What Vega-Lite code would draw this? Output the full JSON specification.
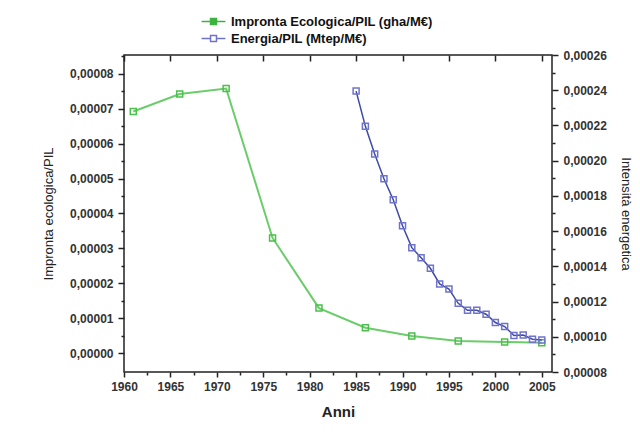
{
  "$schema": "https://vega.github.io/schema/vega-lite/v6.json",
  "width": 428,
  "height": 317,
  "autosize": {"type": "none"},
  "padding": {"left": 124, "top": 55, "right": 88, "bottom": 71},
  "background": "white",
  "config": {
    "view": {"stroke": "#222", "strokeWidth": 1.5},
    "font": "Liberation Sans",
    "axis": {"domain": false, "grid": false, "labelFlush": false, "tickColor": "#222", "tickWidth": 1.5, "labelColor": "#333", "labelFont": "Liberation Sans", "labelFontWeight": "bold", "labelFontSize": 12, "titleFont": "Liberation Sans", "titleColor": "#222"}
  },
  "datasets": {
    "eco": [
      {"anno": 1961, "valore": 0.0000692},
      {"anno": 1966, "valore": 0.0000742},
      {"anno": 1971, "valore": 0.0000758},
      {"anno": 1976, "valore": 0.0000330},
      {"anno": 1981, "valore": 0.0000129},
      {"anno": 1986, "valore": 0.0000073},
      {"anno": 1991, "valore": 0.0000049},
      {"anno": 1996, "valore": 0.0000035},
      {"anno": 2001, "valore": 0.0000032},
      {"anno": 2005, "valore": 0.0000030}
    ],
    "energia": [
      {"anno": 1985, "valore": 0.0002395},
      {"anno": 1986, "valore": 0.0002195},
      {"anno": 1987, "valore": 0.0002038},
      {"anno": 1988, "valore": 0.0001897},
      {"anno": 1989, "valore": 0.0001778},
      {"anno": 1990, "valore": 0.0001630},
      {"anno": 1991, "valore": 0.0001506},
      {"anno": 1992, "valore": 0.0001449},
      {"anno": 1993, "valore": 0.0001389},
      {"anno": 1994, "valore": 0.0001300},
      {"anno": 1995, "valore": 0.0001271},
      {"anno": 1996, "valore": 0.0001190},
      {"anno": 1997, "valore": 0.0001150},
      {"anno": 1998, "valore": 0.0001150},
      {"anno": 1999, "valore": 0.0001128},
      {"anno": 2000, "valore": 0.0001081},
      {"anno": 2001, "valore": 0.0001058},
      {"anno": 2002, "valore": 0.0001007},
      {"anno": 2003, "valore": 0.0001010},
      {"anno": 2004, "valore": 0.0000986},
      {"anno": 2005, "valore": 0.0000982}
    ],
    "legenda": [
      {"anno": 1960, "valore": 0, "serie": "Impronta Ecologica/PIL (gha/M€)"},
      {"anno": 1960, "valore": 0, "serie": "Energia/PIL (Mtep/M€)"}
    ]
  },
  "layer": [
    {
      "data": {"name": "eco"},
      "encoding": {
        "x": {"field": "anno", "type": "quantitative", "scale": {"domain": [1960, 2006.1], "nice": false, "zero": false},
          "axis": {"orient": "bottom", "values": [1960, 1965, 1970, 1975, 1980, 1985, 1990, 1995, 2000, 2005], "format": "d", "tickSize": 5, "labelPadding": 4, "title": "Anni", "titleFontSize": 15, "titleFontWeight": "bold", "titlePadding": 12}},
        "y": {"field": "valore", "type": "quantitative", "scale": {"domain": [-0.0000054, 0.0000854], "nice": false, "zero": false},
          "axis": {"orient": "left", "values": [0, 0.00001, 0.00002, 0.00003, 0.00004, 0.00005, 0.00006, 0.00007, 0.00008], "labelExpr": "replace(format(datum.value, '.5f'), '.', ',')", "tickSize": 6, "labelPadding": 5, "title": "Impronta ecologica/PIL", "titleFontSize": 13, "titleFontWeight": "normal", "titlePadding": 14}}
      },
      "layer": [
        {"mark": {"type": "line", "color": "#6acd6a", "strokeWidth": 2}},
        {"mark": {"type": "point", "shape": "square", "filled": false, "size": 36, "strokeWidth": 1.5, "opacity": 1, "color": "#4cbf4c"}}
      ]
    },
    {
      "data": {"name": "energia"},
      "encoding": {
        "x": {"field": "anno", "type": "quantitative", "scale": {"domain": [1960, 2006.1], "nice": false, "zero": false}, "axis": null},
        "y": {"field": "valore", "type": "quantitative", "scale": {"domain": [0.00008, 0.00026], "nice": false, "zero": false},
          "axis": {"orient": "right", "values": [0.00008, 0.0001, 0.00012, 0.00014, 0.00016, 0.00018, 0.0002, 0.00022, 0.00024, 0.00026], "labelExpr": "replace(format(datum.value, '.5f'), '.', ',')", "tickSize": 6, "labelPadding": 5, "title": "Intensità energetica", "titleFontSize": 13, "titleFontWeight": "normal", "titlePadding": 12}}
      },
      "layer": [
        {"mark": {"type": "line", "color": "#3d4aa6", "strokeWidth": 1.5}},
        {"mark": {"type": "point", "shape": "square", "filled": false, "size": 36, "strokeWidth": 1.5, "opacity": 1, "color": "#6f73cc"}}
      ]
    },
    {
      "data": {"name": "legenda"},
      "transform": [{"filter": "datum.anno > 3000"}],
      "mark": {"type": "point", "shape": "square", "filled": true, "size": 36, "strokeWidth": 1.5, "opacity": 1},
      "encoding": {
        "x": {"field": "anno", "type": "quantitative", "scale": {"domain": [1960, 2006.1], "nice": false, "zero": false},
          "axis": {"orient": "bottom", "values": [1962.5, 1967.5, 1972.5, 1977.5, 1982.5, 1987.5, 1992.5, 1997.5, 2002.5], "labels": false, "tickSize": 3, "title": null}},
        "y": {"field": "valore", "type": "quantitative", "scale": {"domain": [-0.0000054, 0.0000854], "nice": false, "zero": false},
          "axis": {"orient": "left", "values": [0.000005, 0.000015, 0.000025, 0.000035, 0.000045, 0.000055, 0.000065, 0.000075, 0.000085], "labels": false, "tickSize": 3, "title": null}},
        "stroke": {"field": "serie", "type": "nominal",
          "scale": {"domain": ["Impronta Ecologica/PIL (gha/M€)", "Energia/PIL (Mtep/M€)"], "range": ["#3cb33c", "#6f73cc"]},
          "legend": {"title": null, "orient": "none", "legendX": 80, "legendY": -43, "labelFont": "Liberation Sans", "labelFontWeight": "bold", "labelFontSize": 13, "labelColor": "#111", "labelLimit": 400, "symbolType": "M-1.4,0H-0.35M0.35,0H1.4M-0.35,-0.35H0.35V0.35H-0.35Z", "symbolSize": 290, "symbolStrokeWidth": 1.5, "rowPadding": 0, "labelOffset": 8}},
        "fill": {"field": "serie", "type": "nominal",
          "scale": {"domain": ["Impronta Ecologica/PIL (gha/M€)", "Energia/PIL (Mtep/M€)"], "range": ["#3cb33c", "#ffffff"]},
          "legend": {"title": null, "orient": "none", "legendX": 80, "legendY": -43, "labelFont": "Liberation Sans", "labelFontWeight": "bold", "labelFontSize": 13, "labelColor": "#111", "labelLimit": 400, "symbolType": "M-1.4,0H-0.35M0.35,0H1.4M-0.35,-0.35H0.35V0.35H-0.35Z", "symbolSize": 290, "symbolStrokeWidth": 1.5, "rowPadding": 0, "labelOffset": 8}}
      }
    },
    {
      "data": {"name": "legenda"},
      "transform": [{"filter": "datum.anno > 3000"}],
      "mark": {"type": "point", "opacity": 0},
      "encoding": {
        "x": {"field": "anno", "type": "quantitative", "scale": {"domain": [1960, 2006.1], "nice": false, "zero": false},
          "axis": {"orient": "top", "values": [1960, 1965, 1970, 1975, 1980, 1985, 1990, 1995, 2000, 2005], "labels": false, "tickSize": -6, "title": null}},
        "y": {"field": "valore", "type": "quantitative", "scale": {"domain": [0.00008, 0.00026], "nice": false, "zero": false},
          "axis": {"orient": "right", "values": [0.00009, 0.00011, 0.00013, 0.00015, 0.00017, 0.00019, 0.00021, 0.00023, 0.00025], "labels": false, "tickSize": 3, "title": null}}
      }
    }
  ],
  "resolve": {"scale": {"x": "independent", "y": "independent", "stroke": "independent", "fill": "independent"}, "axis": {"x": "independent", "y": "independent"}}
}
